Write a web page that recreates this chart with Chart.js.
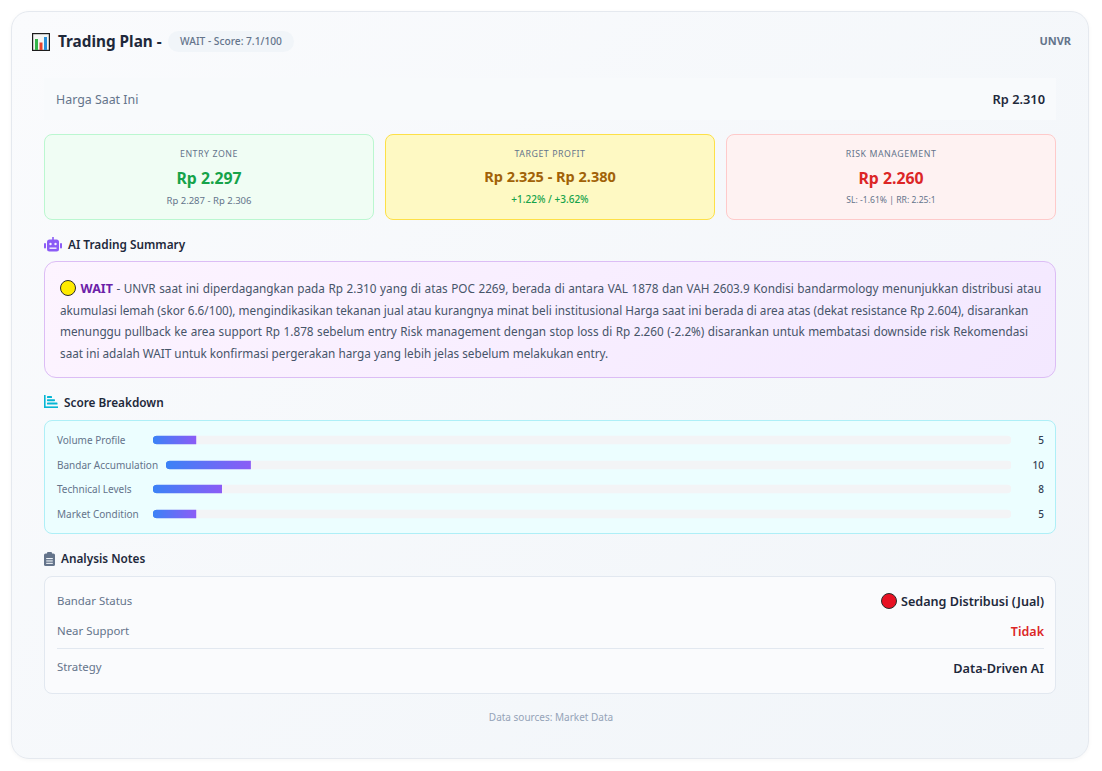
<!DOCTYPE html>
<html>
<head>
<meta charset="utf-8">
<title>Trading Plan</title>
<script src="https://cdn.jsdelivr.net/npm/chart.js"></script>
<style>
* { box-sizing: border-box; }
html, body { margin: 0; padding: 0; background: #fff; }
body { width: 1102px; height: 771px; position: relative; overflow: hidden; font-family: "Noto Sans", sans-serif; color: #1e293b; }
.abs { position: absolute; white-space: nowrap; }
.card { position: absolute; left: 11px; top: 11px; width: 1078px; height: 748px; border: 1px solid #e5e9ef; border-radius: 18px; background: linear-gradient(135deg, #fafbfd, #f1f5f9); box-shadow: 0 1px 4px rgba(0,0,0,.04); }
.price-row { position: absolute; left: 44px; top: 78px; width: 1012px; height: 42px; background: #f8fafc; }
.box { position: absolute; top: 134px; width: 330px; height: 86px; border-radius: 8px; border: 1px solid; text-align: center; }
.box div { position: absolute; left: 0; right: 0; white-space: nowrap; }
.box .lbl { top: 11px; font-size: 8.8px; line-height: 16px; letter-spacing: .55px; color: #64748b; }
.box .sub { font-size: 9.5px; line-height: 14px; color: #64748b; }
.head { position: absolute; font-size: 11.8px; font-weight: 600; line-height: 18px; white-space: nowrap; }
.summary { position: absolute; left: 44px; top: 261px; width: 1012px; height: 117px; border: 1px solid #dcbdf5; border-radius: 12px; background: linear-gradient(135deg, #fdf4ff, #f3e8ff); padding: 16px 15px; font-size: 11.75px; line-height: 21.5px; color: #475569; white-space: nowrap; }
.dot { display: inline-block; width: 16px; height: 16px; border-radius: 50%; border: 1.2px solid #2b2b2b; vertical-align: -3px; }
.scores { position: absolute; left: 44px; top: 420px; width: 1012px; height: 114px; border: 1px solid #aeeff7; border-radius: 8px; background: #ecfeff; }
.row { position: absolute; left: 12px; width: 987px; height: 14px; display: flex; align-items: center; gap: 7.5px; font-size: 10px; color: #64748b; }
.row .name { min-width: 88.5px; white-space: nowrap; }
.row .track { flex: 1; height: 12px; position: relative; min-width: 0; }
.row .val { min-width: 25.5px; text-align: right; font-size: 10px; font-weight: 500; color: #334155; }
.notes { position: absolute; left: 44px; top: 576px; width: 1012px; height: 118px; border: 1px solid #e2e8f0; border-radius: 8px; background: #fafbfd; }
</style>
</head>
<body>
<div class="card"></div>

<svg class="abs" style="left:32px;top:33px" width="18" height="18" viewBox="0 0 18 18">
  <rect x=".6" y=".6" width="16.8" height="16.8" fill="#f4f6f4" stroke="#1c1c1c" stroke-width="1.2"/>
  <rect x="3" y="6" width="3" height="11" fill="#35b44a"/>
  <rect x="7.5" y="9.5" width="3" height="7.5" fill="#e8442e"/>
  <rect x="12" y="4" width="3" height="13" fill="#2a8fd8"/>
</svg>
<div class="abs" style="left:58px;top:30px;font-size:15.3px;font-weight:700;line-height:22px">Trading Plan -</div>
<div class="abs" style="left:168px;top:31px;width:126px;height:21px;border-radius:11px;background:#f1f5f9;text-align:center;font-size:10.2px;font-weight:500;line-height:21px;color:#64748b">WAIT - Score: 7.1/100</div>
<div class="abs" style="right:31px;top:33px;font-size:11px;font-weight:700;line-height:16px;color:#64748b">UNVR</div>

<div class="price-row"></div>
<div class="abs" style="left:56px;top:91px;font-size:12.4px;line-height:18px;color:#64748b">Harga Saat Ini</div>
<div class="abs" style="right:57px;top:89px;font-size:12.8px;font-weight:600;line-height:20px">Rp 2.310</div>

<div class="box" style="left:44px;background:#f0fdf4;border-color:#bbf7d0">
  <div class="lbl">ENTRY ZONE</div>
  <div style="top:32px;font-size:15.8px;font-weight:700;line-height:22px;color:#16a34a">Rp 2.297</div>
  <div class="sub" style="top:59px">Rp 2.287 - Rp 2.306</div>
</div>
<div class="box" style="left:385px;background:#fef9c3;border-color:#fde047">
  <div class="lbl">TARGET PROFIT</div>
  <div style="top:31px;font-size:14.5px;font-weight:700;line-height:20px;color:#a16207">Rp 2.325 - Rp 2.380</div>
  <div class="sub" style="top:57px;color:#16a34a;font-weight:500;font-size:10px">+1.22% / +3.62%</div>
</div>
<div class="box" style="left:726px;background:#fef2f2;border-color:#fecaca">
  <div class="lbl">RISK MANAGEMENT</div>
  <div style="top:32px;font-size:15.8px;font-weight:700;line-height:22px;color:#dc2626">Rp 2.260</div>
  <div class="sub" style="top:58px;font-size:8.6px">SL: -1.61% | RR: 2.25:1</div>
</div>

<svg class="abs" style="left:44px;top:237px" width="18" height="15" viewBox="0 0 18 15">
  <rect x="3" y="2.5" width="12" height="12" rx="2.5" fill="#8b5cf6"/>
  <rect x="0" y="6" width="2" height="5.5" rx="1" fill="#8b5cf6"/>
  <rect x="16" y="6" width="2" height="5.5" rx="1" fill="#8b5cf6"/>
  <rect x="8.2" y="0" width="1.6" height="3" fill="#8b5cf6"/>
  <circle cx="6.5" cy="7" r="1.2" fill="#f5f3ff"/>
  <circle cx="11.5" cy="7" r="1.2" fill="#f5f3ff"/>
  <rect x="5.5" y="10.5" width="7" height="1.4" fill="#f5f3ff"/>
</svg>
<div class="head" style="left:68px;top:235px">AI Trading Summary</div>
<div class="summary"><span style="word-spacing:.5px"><span class="dot" style="background:#ffeb00"></span> <b style="color:#6b21a8;font-weight:700;font-size:12.5px;margin-left:1px">WAIT</b> - UNVR saat ini diperdagangkan pada Rp 2.310 yang di atas POC 2269, berada di antara VAL 1878 dan VAH 2603.9 Kondisi bandarmology menunjukkan distribusi atau</span><br>akumulasi lemah (skor 6.6/100), mengindikasikan tekanan jual atau kurangnya minat beli institusional Harga saat ini berada di area atas (dekat resistance Rp 2.604), disarankan<br><span style="word-spacing:.4px">menunggu pullback ke area support Rp 1.878 sebelum entry Risk management dengan stop loss di Rp 2.260 (-2.2%) disarankan untuk membatasi downside risk Rekomendasi</span><br>saat ini adalah WAIT untuk konfirmasi pergerakan harga yang lebih jelas sebelum melakukan entry.</div>

<svg class="abs" style="left:44px;top:395px" width="14" height="13" viewBox="0 0 14 13" fill="#06b6d4">
  <rect x="0" y="0" width="1.6" height="13"/><rect x="0" y="11.4" width="14" height="1.6"/>
  <rect x="3" y="1" width="5" height="2" rx=".6"/><rect x="3" y="4.2" width="8" height="2" rx=".6"/><rect x="3" y="7.6" width="10.5" height="2" rx=".6"/>
</svg>
<div class="head" style="left:64px;top:393px">Score Breakdown</div>
<div class="scores" id="scores"></div>

<svg class="abs" style="left:44px;top:552px" width="11" height="14" viewBox="0 0 11 14">
  <rect x="0" y="1.5" width="11" height="12.5" rx="1.6" fill="#64748b"/>
  <rect x="3" y="0" width="5" height="3.4" rx="1" fill="#64748b"/>
  <rect x="2.2" y="6" width="6.6" height="1.1" fill="#f1f5f9"/><rect x="2.2" y="8.4" width="6.6" height="1.1" fill="#f1f5f9"/><rect x="2.2" y="10.8" width="6.6" height="1.1" fill="#f1f5f9"/>
</svg>
<div class="head" style="left:61px;top:549px">Analysis Notes</div>
<div class="notes"></div>
<div class="abs" style="left:57px;top:592px;font-size:11.4px;line-height:18px;color:#64748b">Bandar Status</div>
<div class="abs" style="right:58px;top:592px;font-size:12.6px;font-weight:600;line-height:20px"><span class="dot" style="background:#e81123;vertical-align:-3px;margin-right:4px"></span>Sedang Distribusi (Jual)</div>
<div class="abs" style="left:57px;top:622px;font-size:11.4px;line-height:18px;color:#64748b">Near Support</div>
<div class="abs" style="right:58px;top:622px;font-size:12.5px;font-weight:600;line-height:20px;color:#dc2626">Tidak</div>
<div class="abs" style="left:57px;top:648px;width:987px;height:1px;background:#e2e8f0"></div>
<div class="abs" style="left:57px;top:658px;font-size:11.4px;line-height:18px;color:#64748b">Strategy</div>
<div class="abs" style="right:58px;top:658px;font-size:12.7px;font-weight:600;line-height:20px">Data-Driven AI</div>

<div class="abs" style="left:0;width:1102px;top:710px;text-align:center;font-size:10px;line-height:14px;color:#94a3b8">Data sources: Market Data</div>

<script>
const categories = ['Volume Profile', 'Bandar Accumulation', 'Technical Levels', 'Market Condition'];
const scoreValues = [5, 10, 8, 5];
const scoreMax = 100;
const rowTops = [12, 37, 61, 86];

const wrap = document.getElementById('scores');

categories.forEach((name, i) => {
    let row = document.createElement('div');
    row.className = 'row';
    row.style.top = rowTops[i] + 'px';
    row.innerHTML = '<span class="name">' + name + '</span><div class="track"><canvas></canvas></div><span class="val">' + scoreValues[i] + '</span>';
    wrap.appendChild(row);

    new Chart(row.querySelector('canvas'), {
        type: 'bar',
        data: {
            labels: [name],
            datasets: [
                {
                    data: [scoreValues[i]],
                    order: 1,
                    barThickness: 8,
                    borderRadius: {topLeft: 4, bottomLeft: 4},
                    borderSkipped: false,
                    backgroundColor: (ctx) => {
                        let {chart} = ctx;
                        if(!chart.chartArea) return '#3b82f6';
                        let x = chart.scales.x;
                        let g = chart.ctx.createLinearGradient(x.getPixelForValue(0), 0, x.getPixelForValue(scoreValues[i]), 0);
                        g.addColorStop(0, '#3b82f6');
                        g.addColorStop(1, '#8b5cf6');
                        return g;
                    }
                },
                {
                    data: [scoreMax],
                    order: 2,
                    barThickness: 8,
                    borderRadius: 4,
                    borderSkipped: false,
                    backgroundColor: '#f3f4f6'
                }
            ]
        },
        options: {
            indexAxis: 'y',
            responsive: true,
            maintainAspectRatio: false,
            animation: false,
            events: [],
            layout: {padding: 0},
            plugins: {legend: {display: false}, tooltip: {enabled: false}},
            scales: {
                x: {display: false, min: 0, max: scoreMax},
                y: {display: false}
            },
            datasets: {bar: {grouped: false}}
        }
    });
});
</script>
</body>
</html>
